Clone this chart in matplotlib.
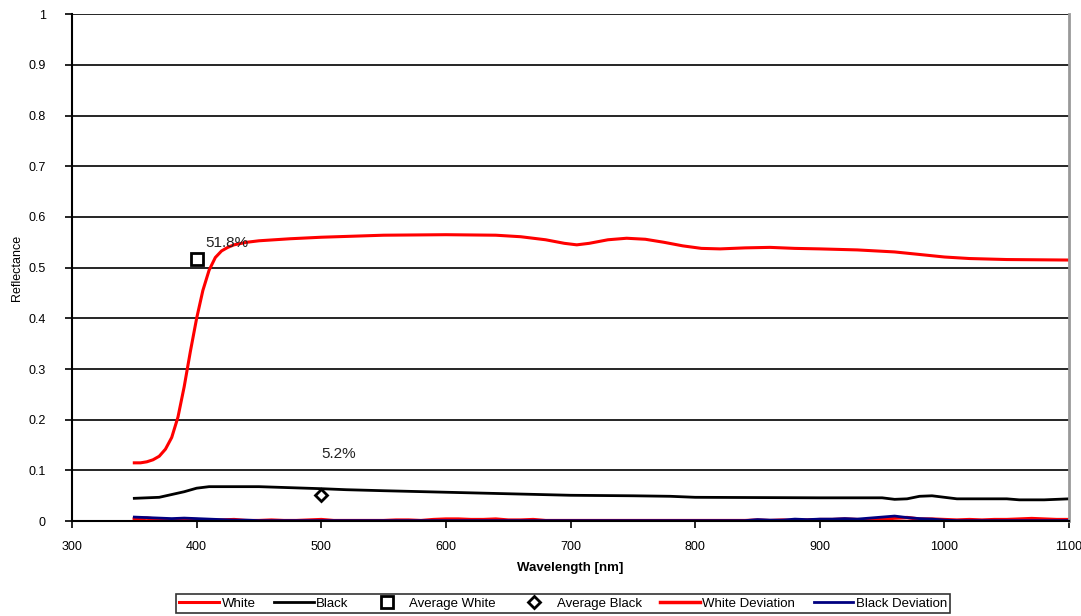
import numpy as np
import matplotlib.pyplot as plt

plt.rcParams['font.family'] = ['Liberation Sans', 'DejaVu Sans']

#### data ####

wl_white = [350, 355, 360, 365, 370, 375, 380, 385, 390, 395, 400, 405, 410, 415, 420, 425, 430,
            440, 450, 475, 500, 550, 600, 640, 660, 680, 695, 705, 715, 730, 745, 760, 775, 790,
            805, 820, 840, 860, 880, 900, 930, 960, 980, 1000, 1020, 1050, 1100]
white = [0.115, 0.115, 0.117, 0.121, 0.128, 0.142, 0.165, 0.205, 0.265, 0.335, 0.400, 0.455,
         0.495, 0.520, 0.533, 0.540, 0.545, 0.550, 0.553, 0.557, 0.560, 0.564, 0.565, 0.564,
         0.561, 0.555, 0.548, 0.545, 0.548, 0.555, 0.558, 0.556, 0.550, 0.543, 0.538, 0.537,
         0.539, 0.540, 0.538, 0.537, 0.535, 0.531, 0.526, 0.521, 0.518, 0.516, 0.515]

wl_black = [350, 370, 390, 400, 410, 450, 500, 520, 550, 600, 650, 700, 750, 780, 800, 900,
            950, 960, 970, 980, 990, 1000, 1010, 1050, 1060, 1080, 1100]
black = [0.045, 0.047, 0.058, 0.065, 0.068, 0.068, 0.064, 0.062, 0.060, 0.057, 0.054, 0.051,
         0.050, 0.049, 0.047, 0.046, 0.046, 0.043, 0.044, 0.049, 0.050, 0.047, 0.044, 0.044,
         0.042, 0.042, 0.044]

wl_dev = list(range(350, 1101, 10))
white_dev = [0.004, 0.006, 0.003, 0.002, 0.004, 0.003, 0.001, 0.002, 0.003, 0.001, 0.001, 0.002,
             0.001, 0.001, 0.002, 0.003, 0.001, 0.001, 0.001, 0.001, 0.001, 0.002, 0.002, 0.001,
             0.003, 0.004, 0.004, 0.003, 0.003, 0.004, 0.002, 0.002, 0.003, 0.001, 0.001, 0.001,
             0.001, 0.001, 0.001, 0.001, 0.001, 0.001, 0.001, 0.001, 0.001, 0.001, 0.001, 0.001,
             0.001, 0.001, 0.002, 0.001, 0.002, 0.001, 0.002, 0.003, 0.003, 0.004, 0.003, 0.002,
             0.004, 0.006, 0.007, 0.004, 0.004, 0.003, 0.002, 0.003, 0.002, 0.003, 0.003, 0.004,
             0.005, 0.004, 0.003, 0.003]
black_dev = [0.008, 0.007, 0.006, 0.005, 0.006, 0.005, 0.004, 0.003, 0.002, 0.002, 0.001, 0.001,
             0.001, 0.001, 0.001, 0.001, 0.001, 0.001, 0.001, 0.001, 0.001, 0.001, 0.001, 0.001,
             0.001, 0.001, 0.001, 0.001, 0.001, 0.001, 0.001, 0.001, 0.001, 0.001, 0.001, 0.001,
             0.001, 0.001, 0.001, 0.001, 0.001, 0.001, 0.001, 0.001, 0.001, 0.001, 0.001, 0.001,
             0.001, 0.001, 0.003, 0.002, 0.002, 0.004, 0.003, 0.004, 0.004, 0.005, 0.004, 0.006,
             0.008, 0.010, 0.007, 0.005, 0.004, 0.002, 0.001, 0.001, 0.001, 0.001, 0.001, 0.001,
             0.001, 0.001, 0.001, 0.001]

avg_white = (400, 0.518)
avg_black = (500, 0.052)

#### plot ####

fig = plt.figure(figsize=(10.81, 6.16), dpi=100)
ax = fig.add_axes([0.0666, 0.154, 0.9224, 0.823])

ax.plot(wl_white, white, color='#ff0000', lw=2.2, label='White')
ax.plot(wl_black, black, color='black', lw=2.0, label='Black')
ax.plot(*avg_white, marker='s', ms=8, mfc='white', mec='black', mew=2, ls='none', label='Average White')
ax.plot(*avg_black, marker='D', ms=6, mfc='white', mec='black', mew=2, ls='none', label='Average Black')
ax.plot(wl_dev, white_dev, color='#ff0000', lw=2.5, label='White Deviation')
ax.plot(wl_dev, black_dev, color='#000080', lw=2.0, label='Black Deviation')

ax.text(407, 0.54, '51.8%', fontsize=11, color='#222222')
ax.text(500, 0.125, '5.2%', fontsize=11, color='#222222')

ax.set_xlim(300, 1100)
ax.set_ylim(0, 1)
ax.set_xticks(np.arange(300, 1101, 100))
ax.set_yticks(np.arange(0, 1.01, 0.1))
ax.set_yticklabels(['0', '0.1', '0.2', '0.3', '0.4', '0.5', '0.6', '0.7', '0.8', '0.9', '1'])
ax.tick_params(labelsize=9, direction='out', length=5, width=1.2)
ax.tick_params(axis='x', pad=9)
ax.tick_params(axis='y', pad=14)
ax.yaxis.grid(True, color='black', lw=1.2)
ax.set_axisbelow(True)

ax.spines['top'].set_visible(False)
ax.spines['right'].set_color('#999999')
ax.spines['right'].set_linewidth(2)
ax.spines['left'].set_linewidth(1.5)
ax.spines['bottom'].set_linewidth(1.5)

ax.set_xlabel('Wavelength [nm]', fontsize=9.5, fontweight='bold', labelpad=7)
ax.set_ylabel('Reflectance', fontsize=9, labelpad=4)

leg = fig.legend(loc='center', bbox_to_anchor=(0.521, 0.02), ncol=6, fontsize=9.5,
                 frameon=True, fancybox=False, edgecolor='black', handlelength=3.0,
                 handletextpad=0.2, columnspacing=1.4, borderpad=0.25)
leg.get_frame().set_linewidth(1.2)

plt.savefig('out.png', dpi=100)
